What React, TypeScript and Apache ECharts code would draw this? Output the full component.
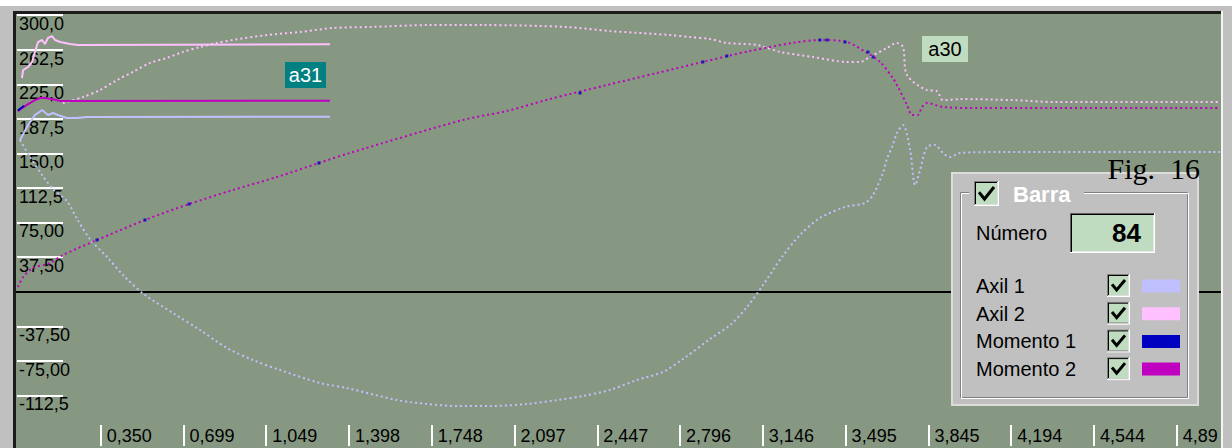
import React, { useEffect, useRef } from "react";
import * as echarts from "echarts";

// ---- tick labels ----
const xTickLabels = ["0,350", "0,699", "1,049", "1,398", "1,748", "2,097", "2,447", "2,796", "3,146", "3,495", "3,845", "4,194", "4,544", "4,89"];
const yTickLabels = ["-112,5", "-75,00", "-37,50", "", "37,50", "75,00", "112,5", "150,0", "187,5", "225,0", "262,5", "300,0"];

// ---- series (x = time, y = value) ----
const axil1Solid = [[0.009, 164.5], [0.043, 180.8], [0.072, 191.7], [0.085, 193.8], [0.102, 197.1], [0.127, 191.7], [0.148, 193.8], [0.169, 191.7], [0.207, 188.4], [0.25, 188.4], [0.292, 189.5], [1.318, 189.8]];
const axil2Solid = [[0.017, 231.8], [0.022, 240.4], [0.043, 243.7], [0.06, 249.2], [0.072, 260.1], [0.085, 270.8], [0.102, 273.0], [0.114, 268.7], [0.127, 275.2], [0.144, 277.3], [0.157, 273.0], [0.178, 270.8], [0.199, 269.8], [0.22, 268.7], [0.254, 267.6], [1.318, 268.3]];
const momento2Solid = [[0.0, 195.9], [0.017, 199.1], [0.043, 203.5], [0.072, 207.8], [0.093, 210.0], [0.114, 210.0], [0.144, 209.0], [0.178, 206.8], [1.318, 207.2]];
const momento1Solid = [[0.0, 196.5], [0.012, 199.0], [0.026, 201.5]];

const axil1Dotted = [[0.009, 164.5], [0.051, 146.1], [0.102, 126.6], [0.148, 111.4], [0.207, 98.4], [0.25, 78.9], [0.304, 57.2], [0.376, 37.7], [0.452, 16.0], [0.537, -3.6], [0.655, -23.1], [0.769, -41.5], [0.883, -61.1], [0.993, -74.1], [1.107, -84.9], [1.276, -99.0], [1.389, -104.4], [1.601, -117.5], [1.728, -121.8], [1.855, -124.0], [1.994, -124.0], [2.15, -121.8], [2.277, -117.5], [2.386, -113.1], [2.5, -106.6], [2.614, -95.8], [2.724, -87.1], [2.809, -73.0], [2.923, -51.3], [3.008, -36.1], [3.079, -16.6], [3.147, 7.3], [3.227, 37.7], [3.303, 61.5], [3.387, 79.9], [3.493, 91.9], [3.577, 96.2], [3.611, 104.9], [3.653, 128.7], [3.67, 143.9], [3.695, 159.1], [3.712, 172.1], [3.738, 180.8], [3.768, 153.7], [3.789, 115.7], [3.81, 132.0], [3.839, 156.9], [3.873, 159.1], [3.907, 150.4], [3.936, 146.1], [3.979, 150.4], [4.147, 151.5], [5.077, 151.5]];
const axil2Dotted = [[0.19, 204.5], [0.275, 211.2], [0.347, 218.8], [0.419, 229.6], [0.486, 238.4], [0.558, 248.1], [0.63, 253.6], [0.697, 260.1], [0.769, 265.4], [0.841, 269.8], [0.908, 273.0], [1.052, 278.4], [1.191, 281.7], [1.331, 286.0], [1.487, 287.1], [1.74, 289.2], [1.964, 289.2], [2.319, 287.1], [2.5, 282.7], [2.627, 280.6], [2.754, 278.4], [2.839, 276.2], [2.923, 274.1], [2.994, 269.8], [3.121, 267.6], [3.218, 260.1], [3.358, 254.6], [3.501, 249.2], [3.556, 249.2], [3.598, 254.6], [3.67, 264.3], [3.712, 269.8], [3.738, 265.4], [3.755, 235.0], [3.839, 218.7], [3.881, 217.6], [3.907, 207.8], [3.979, 208.9], [4.203, 207.8], [4.38, 205.7], [5.077, 205.7]];
const momento2Dotted = [[0.0, 5.1], [0.022, 15.9], [0.064, 25.7], [0.136, 31.1], [0.19, 39.8], [0.334, 56.1], [0.537, 77.8], [0.723, 95.1], [0.908, 110.3], [1.094, 124.4], [1.271, 139.6], [1.402, 150.5], [1.88, 186.3], [2.065, 196.0], [2.247, 209.0], [2.488, 224.2], [2.699, 237.2], [2.893, 249.2], [3.092, 261.1], [3.273, 269.8], [3.387, 273.0], [3.501, 270.8], [3.586, 258.9], [3.641, 249.2], [3.695, 231.8], [3.717, 222.0], [3.755, 202.5], [3.776, 191.7], [3.801, 191.7], [3.818, 200.3], [3.839, 204.7], [3.907, 200.3], [4.063, 199.2], [4.358, 199.2], [5.077, 199.2]];
const momento1Points = [[0.334, 56.1], [0.537, 77.8], [0.723, 95.1], [1.271, 139.6], [2.374, 215.5], [2.893, 249.2], [2.994, 255.7], [3.387, 273.0], [3.417, 273.0], [3.493, 270.8], [3.59, 260.0], [3.611, 254.6]];

const legendItems = ["Axil 1", "Axil 2", "Momento 1", "Momento 2"];
const legendColors = ["#c0c0ff", "#ffc0ff", "#0000c0", "#c000c0"];

const X_STEP = 0.34955;
const Y_STEP = 37.5;
const Y_MIN_TICK = -112.5;
const UI_FONT = '"Liberation Sans", Arial, sans-serif';

// tick values for the short white y-tick marks (same as the label axis)
const yTickValues = yTickLabels.map((_, i) => Y_MIN_TICK + i * Y_STEP);

function checkbox(x: number, y: number, size: number) {
  return [
    { type: "rect", z: 100, shape: { x, y, width: size, height: size }, style: { fill: "#ffffff" } },
    { type: "rect", z: 100, shape: { x, y, width: size - 1, height: size - 1 }, style: { fill: "#808080" } },
    { type: "rect", z: 100, shape: { x: x + 1, y: y + 1, width: size - 2, height: size - 2 }, style: { fill: "#dfdfdf" } },
    { type: "rect", z: 100, shape: { x: x + 1, y: y + 1, width: size - 3, height: size - 3 }, style: { fill: "#000000" } },
    { type: "rect", z: 100, shape: { x: x + 2, y: y + 2, width: size - 4, height: size - 4 }, style: { fill: "#c0dcc0" } },
    {
      type: "polyline", z: 101,
      shape: { points: [[x + 5, y + size * 0.45], [x + size * 0.42, y + size - 7], [x + size - 5, y + 6]] },
      style: { stroke: "#000000", lineWidth: 3, fill: "none" },
    },
  ];
}

function buildGraphic() {
  const g: any[] = [
    // frame (outside the plot area only)
    { type: "rect", z: 0, shape: { x: 0, y: 0, width: 1232, height: 6 }, style: { fill: "#ffffff" } },
    { type: "rect", z: 0, shape: { x: 13, y: 11, width: 1208, height: 3 }, style: { fill: "#1c1c1c" } },
    { type: "rect", z: 0, shape: { x: 13, y: 11, width: 3, height: 437 }, style: { fill: "#1c1c1c" } },
    { type: "rect", z: 0, shape: { x: 1221, y: 11, width: 2, height: 437 }, style: { fill: "#f4f4f4" } },
    // bar labels
    { type: "rect", z: 20, shape: { x: 285, y: 62, width: 41, height: 26 }, style: { fill: "#008080" } },
    { type: "text", z: 21, x: 305.5, y: 75, style: { text: "a31", fill: "#ffffff", font: `20px ${UI_FONT}`, align: "center", verticalAlign: "middle" } },
    { type: "rect", z: 20, shape: { x: 922, y: 36, width: 46, height: 26 }, style: { fill: "#c0dcc0" } },
    { type: "text", z: 21, x: 945, y: 49, style: { text: "a30", fill: "#000000", font: `20px ${UI_FONT}`, align: "center", verticalAlign: "middle" } },
    // panel
    { type: "rect", z: 100, shape: { x: 952, y: 173, width: 246, height: 232 }, style: { fill: "#c0c0c0", stroke: "#dcdcdc", lineWidth: 2 } },
    // group frame (etched)
    { type: "rect", z: 100, shape: { x: 960.5, y: 192.5, width: 227, height: 205 }, style: { fill: "none", stroke: "#808080", lineWidth: 1 } },
    { type: "rect", z: 100, shape: { x: 961.5, y: 193.5, width: 227, height: 205 }, style: { fill: "none", stroke: "#ffffff", lineWidth: 1 } },
    { type: "rect", z: 100, shape: { x: 969, y: 180, width: 115, height: 26 }, style: { fill: "#c0c0c0" } },
    ...checkbox(974, 181, 25),
    { type: "text", z: 101, x: 1013, y: 194, style: { text: "Barra", fill: "#ffffff", font: `bold 22px ${UI_FONT}`, align: "left", verticalAlign: "middle" } },
    { type: "text", z: 101, x: 976, y: 233, style: { text: "Número", fill: "#000000", font: `20px ${UI_FONT}`, align: "left", verticalAlign: "middle" } },
    // number box
    { type: "rect", z: 100, shape: { x: 1070, y: 213, width: 85, height: 40 }, style: { fill: "#ffffff" } },
    { type: "rect", z: 100, shape: { x: 1070, y: 213, width: 84, height: 39 }, style: { fill: "#606060" } },
    { type: "rect", z: 100, shape: { x: 1071, y: 214, width: 83, height: 38 }, style: { fill: "#000000" } },
    { type: "rect", z: 100, shape: { x: 1072, y: 215, width: 82, height: 37 }, style: { fill: "#e8e8e8" } },
    { type: "rect", z: 100, shape: { x: 1072, y: 215, width: 81, height: 36 }, style: { fill: "#c0dcc0" } },
    { type: "text", z: 101, x: 1141, y: 233, style: { text: "84", fill: "#000000", font: `bold 26px ${UI_FONT}`, align: "right", verticalAlign: "middle" } },
    // figure caption
    { type: "text", z: 110, x: 1200, y: 168, style: { text: "Fig.\u00a0 16", fill: "#000000", font: '30px "Liberation Serif", "Times New Roman", serif', align: "right", verticalAlign: "middle" } },
  ];
  legendItems.forEach((name, i) => {
    const cy = 286 + i * 27.7;
    g.push({ type: "text", z: 101, x: 976, y: cy, style: { text: name, fill: "#000000", font: `20px ${UI_FONT}`, align: "left", verticalAlign: "middle" } });
    g.push(...checkbox(1107, cy - 12, 23));
    g.push({ type: "rect", z: 101, shape: { x: 1142, y: cy - 6.5, width: 38, height: 13 }, style: { fill: legendColors[i] } });
  });
  return g;
}

const dotted = (color: string) => ({ color, width: 2, type: [2, 3] as any, cap: "butt" as const });

export default function App() {
  const ref = useRef<HTMLDivElement>(null);
  useEffect(() => {
    const chart = echarts.init(ref.current!, null, { renderer: "svg" });
    const option: any = {
      animation: false,
      backgroundColor: "#c0c0c0",
      grid: [
        { left: 16, right: 11, top: 14, bottom: 0, show: true, backgroundColor: "#879882", borderWidth: 0 },
        { left: 17, width: 46, top: 15, bottom: 52.7, show: false },
        { left: 100.7, right: 55.3, top: 14, bottom: 2, show: false },
      ],
      xAxis: [
        { gridIndex: 0, type: "value", min: -0.008, max: 5.0809, show: false },
        { gridIndex: 1, type: "value", min: 0, max: 1, show: false },
        {
          gridIndex: 2, type: "value", min: X_STEP, max: X_STEP * 14, interval: X_STEP, z: 5,
          axisLine: { show: false }, splitLine: { show: false },
          axisTick: { show: true, inside: true, length: 21, lineStyle: { color: "#ffffff", width: 2 } },
          axisLabel: {
            inside: true, align: "left", verticalAlign: "middle", margin: 10, padding: [0, 0, 0, 6],
            color: "#000000", fontSize: 18, fontFamily: UI_FONT,
            formatter: (_v: number, i: number) => xTickLabels[i] ?? "",
          },
        },
      ],
      yAxis: [
        { gridIndex: 0, type: "value", min: -169.5, max: 301.2, show: false },
        {
          gridIndex: 1, type: "value", min: Y_MIN_TICK, max: 300, interval: Y_STEP, z: 5,
          axisLine: { show: false }, splitLine: { show: false }, axisTick: { show: false },
          axisLabel: {
            inside: true, align: "left", verticalAlign: "top", margin: 2,
            color: "#000000", fontSize: 18, fontFamily: UI_FONT,
            formatter: (_v: number, i: number) => yTickLabels[i] ?? "",
          },
        },
        { gridIndex: 2, type: "value", min: 0, max: 1, show: false },
      ],
      graphic: buildGraphic(),
      series: [
        {
          name: "Axil 1", type: "line", data: axil1Dotted, showSymbol: false, smooth: 0.3, z: 6,
          lineStyle: dotted(legendColors[0]),
          markLine: {
            silent: true, symbol: ["none", "none"], label: { show: false },
            lineStyle: { color: "#000000", width: 2, type: "solid" },
            data: [{ yAxis: 0 }],
          },
        },
        { name: "Axil 2", type: "line", data: axil2Dotted, showSymbol: false, smooth: 0.3, z: 6, lineStyle: dotted(legendColors[1]) },
        { name: "Momento 2", type: "line", data: momento2Dotted, showSymbol: false, smooth: 0.3, z: 6, lineStyle: dotted(legendColors[3]) },
        {
          name: "Axil 1 bar", type: "line", data: axil1Solid, showSymbol: false, z: 5, lineStyle: { color: legendColors[0], width: 2 },
          markLine: {
            silent: true, symbol: ["none", "none"], label: { show: false },
            lineStyle: { color: "#ffffff", width: 2, type: "solid" },
            data: yTickValues.filter((v) => v !== 0).map((v) => [{ x: 17, yAxis: v }, { x: 63, yAxis: v }]),
          },
        },
        { name: "Axil 2 bar", type: "line", data: axil2Solid, showSymbol: false, z: 6, lineStyle: { color: legendColors[1], width: 2 } },
        { name: "Momento 2 bar", type: "line", data: momento2Solid, showSymbol: false, z: 6, lineStyle: { color: legendColors[3], width: 2 } },
        { name: "Momento 1 bar", type: "line", data: momento1Solid, showSymbol: false, z: 7, lineStyle: { color: legendColors[2], width: 2 } },
        { name: "Momento 1", type: "scatter", data: momento1Points, symbol: "rect", symbolSize: 3, z: 7, itemStyle: { color: legendColors[2] } },
      ],
    };
    chart.setOption(option);
    return () => chart.dispose();
  }, []);
  return <div ref={ref} style={{ position: "absolute", left: 0, top: 0, width: 1232, height: 448 }} />;
}
